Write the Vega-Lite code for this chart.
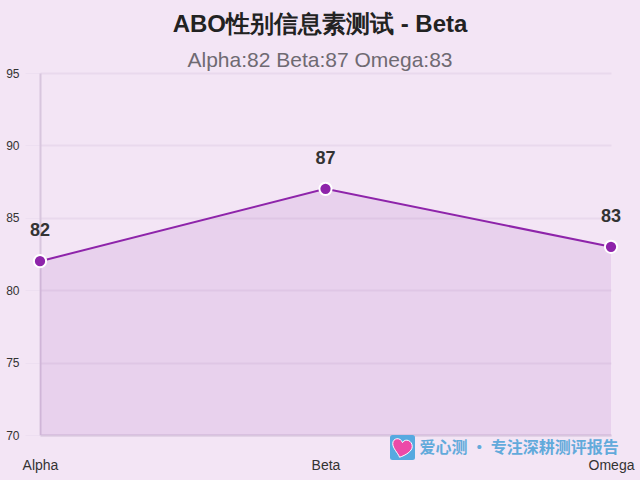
{
  "$schema": "https://vega.github.io/schema/vega-lite/v6.json",
  "width": 571,
  "height": 362,
  "autosize": "none",
  "padding": {"left": 40, "top": 73, "right": 29, "bottom": 45},
  "background": "#f3e5f5",
  "view": {"stroke": null},
  "title": {
    "text": "ABO性别信息素测试 - Beta",
    "subtitle": "Alpha:82 Beta:87 Omega:83",
    "anchor": "middle",
    "frame": "group",
    "dx": -5.5,
    "offset": -4,
    "font": "Liberation Sans",
    "fontSize": 24,
    "fontWeight": "bold",
    "color": "#222222",
    "subtitleFont": "Liberation Sans",
    "subtitleFontSize": 21,
    "subtitleColor": "#6f6a72",
    "subtitlePadding": 13
  },
  "data": {
    "values": [
      {"type": "Alpha", "score": 82},
      {"type": "Beta", "score": 87},
      {"type": "Omega", "score": 83}
    ]
  },
  "encoding": {
    "x": {
      "field": "type",
      "type": "ordinal",
      "sort": null,
      "scale": {"type": "point", "padding": 0},
      "axis": {
        "title": null,
        "labelAngle": 0,
        "labelFont": "Liberation Sans",
        "labelFontSize": 14,
        "labelColor": "#333333",
        "labelPadding": 23,
        "labelFlush": false,
        "labelOverlap": false,
        "ticks": false,
        "domainColor": "#d8c6de",
        "domainWidth": 2,
        "grid": false
      }
    },
    "y": {
      "field": "score",
      "type": "quantitative",
      "scale": {"domain": [70, 95], "nice": false},
      "axis": {
        "title": null,
        "values": [70, 75, 80, 85, 90, 95],
        "labelFont": "Liberation Sans",
        "labelFontSize": 12,
        "labelColor": "#333333",
        "labelPadding": 6,
        "tickSize": 15,
        "tickColor": "#eddff1",
        "gridColor": "#e9d9ed",
        "gridWidth": 2,
        "domainColor": "#d8c6de",
        "domainWidth": 2
      }
    }
  },
  "layer": [
    {
      "mark": {"type": "area", "color": "#8e24aa", "opacity": 0.1},
      "encoding": {"y2": {"datum": 70}}
    },
    {"mark": {"type": "line", "color": "#8e24aa", "strokeWidth": 2}},
    {"mark": {"type": "point", "filled": true, "fill": "#8e24aa", "stroke": "#ffffff", "strokeWidth": 2, "size": 150, "opacity": 1, "clip": false}},
    {
      "mark": {"type": "text", "font": "Liberation Sans", "fontSize": 18, "fontWeight": "bold", "color": "#333333", "dy": -30},
      "encoding": {"text": {"field": "score", "type": "quantitative"}}
    },
    {
      "data": {"values": [{"type": "Beta", "score": 70, "mark": "爱心测 · 专注深耕测评报告"}]},
      "mark": {"type": "text", "font": "Noto Sans CJK SC", "fontSize": 16, "fontWeight": "bold", "color": "#62aadb", "align": "left", "dx": 94, "dy": 13},
      "encoding": {"text": {"field": "mark"}}
    },
    {
      "data": {"values": [{"type": "Beta", "score": 70}]},
      "mark": {"type": "point", "shape": "M-0.8,-1H0.8Q1,-1 1,-0.8V0.8Q1,1 0.8,1H-0.8Q-1,1 -1,0.8V-0.8Q-1,-1 -0.8,-1Z", "filled": true, "fill": "#56a9e0", "opacity": 1, "size": 625, "xOffset": 77, "yOffset": 12.5}
    },
    {
      "data": {"values": [{"type": "Beta", "score": 70}]},
      "mark": {"type": "point", "shape": "M-0.3,1 C-0.5,0.5 -1,0.1 -1,-0.4 C-1,-1 -0.2,-1.1 0,-0.5 C0.3,-1 1,-0.7 1,-0.1 C1,0.4 0.3,0.8 -0.3,1 Z", "filled": true, "fill": "#ec4aa8", "stroke": "#ffffff", "strokeWidth": 1, "opacity": 1, "size": 380, "xOffset": 77, "yOffset": 12.5}
    }
  ]
}
